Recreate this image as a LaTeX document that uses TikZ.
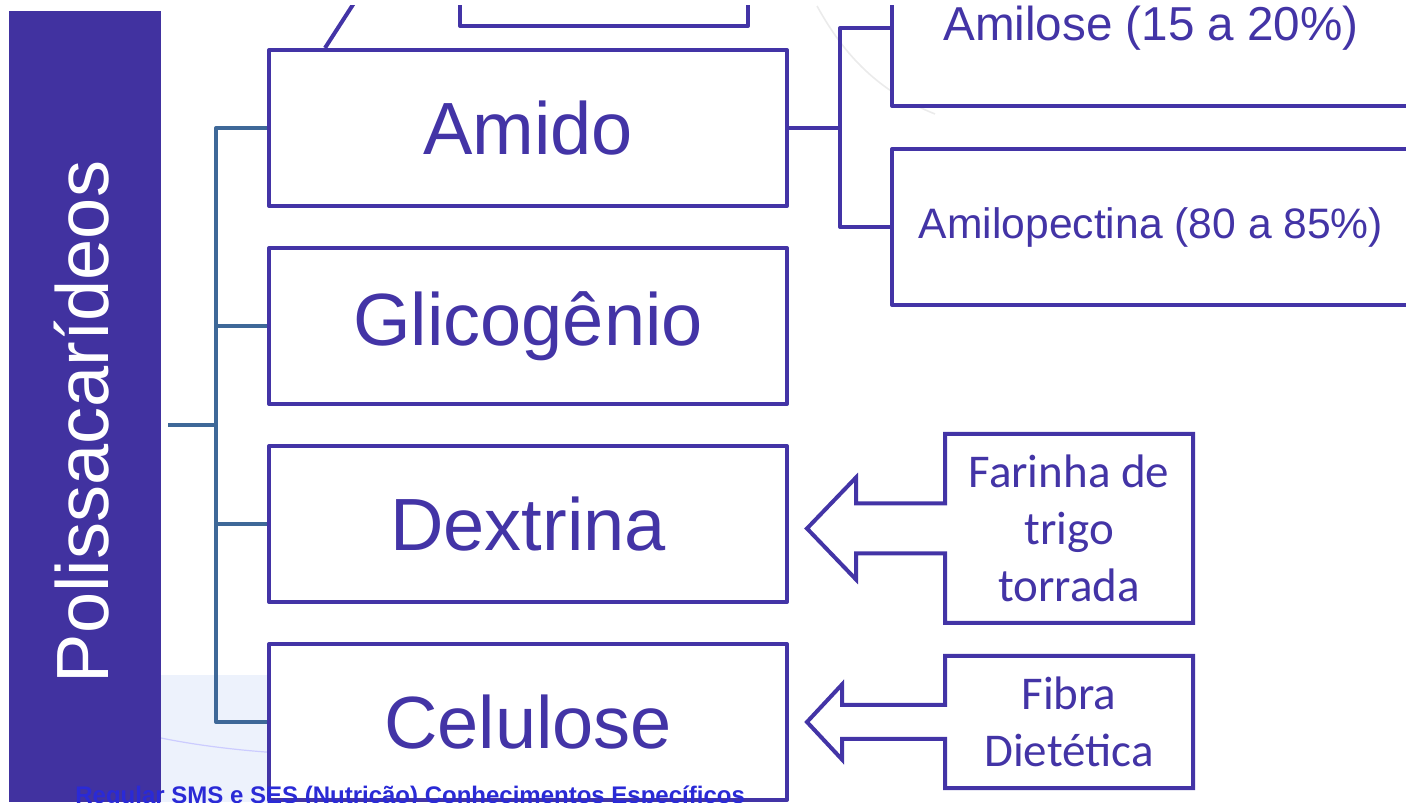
\documentclass[tikz,border=0pt]{standalone}
\usepackage{fontspec}
\setmainfont{Liberation Sans}
\newfontfamily\carlito{Carlito}
\usetikzlibrary{positioning}
\definecolor{poly}{RGB}{67,52,166}
\definecolor{bar}{RGB}{65,50,160}
\definecolor{stem}{RGB}{62,104,152}
\definecolor{footblue}{RGB}{42,42,214}
\definecolor{wave}{RGB}{237,242,252}

\begin{document}
\begin{tikzpicture}[x=0.5pt, y=0.5pt,
    box/.style={draw=poly, line width=2pt, line join=round, fill=white, text=poly, minimum width=259pt, minimum height=78pt, font=\fontsize{37}{44}\selectfont},
    tag/.style={inner sep=0pt, outer sep=0pt, text=poly, align=center, minimum width=124pt, font=\carlito\fontsize{23.5}{28.5}\selectfont},
    outline/.style={draw=poly, line width=2pt},
    link/.style={draw=stem, line width=2pt, line join=round},
    node distance=19pt and 50.5pt
  ]
  \useasboundingbox (0,0) rectangle (1406,802);
  \begin{scope}
  \clip (0,0) rectangle (1406,796);
  \fill[wave] (161,0) rectangle (300,127);
  \draw[blue!20, line width=0.6pt] (161,64) .. controls (200,56) and (250,50) .. (300,48);
  \draw[black!8, line width=0.8pt] (817,796) .. controls (845,745) and (880,710) .. (935,688);

  \node[fill=bar, inner sep=0pt, outer sep=0pt, minimum width=76pt, minimum height=395.5pt, anchor=south west] (bar) at (9,0) {};
  \node[rotate=90, anchor=base, text=white, font=\fontsize{37}{44}\selectfont] (title) at (108,380) {Polissacarídeos};

  \node[box] (amido) at (528,674) {Amido};
  \node[box, below=of amido] (glico) {Glicogênio};
  \node[box, below=of glico] (dextrina) {Dextrina};
  \node[box, below=of dextrina] (celulose) {Celulose};

  \node[box, right=of amido, yshift=50pt, font=\fontsize{23.8}{28}\selectfont] (amilose) {Amilose (15 a 20\%)};
  \node[box, right=of amido, yshift=-49.5pt, font=\fontsize{21.3}{26}\selectfont] (amilopectina) {Amilopectina (80 a 85\%)};

  \coordinate (stub) at (168,377);
  \draw[link] (stub) -- ++(24pt,0);
  \draw[link] (amido.west) -- ++(-25.5pt,0) |- (celulose.west);
  \draw[link] (glico.west) -- ++(-25.5pt,0);
  \draw[link] (dextrina.west) -- ++(-25.5pt,0);

  \draw[link, draw=poly] (amido.east) -- ++(25.5pt,0) coordinate (fork);
  \draw[link, draw=poly] (amilose.west) -| (fork) |- (amilopectina.west);

  \node[draw=poly, line width=2pt, line join=round, minimum width=144pt, minimum height=60pt, anchor=south] (upper) at (604,774) {};
  \draw[outline] ([xshift=29pt]amido.north west) -- ++(40,62);

  \node[tag, minimum height=94.5pt, right=78pt of dextrina, yshift=-2.25pt] (farinha) {Farinha de\\trigo\\torrada};
  \draw[outline] ([yshift=12.5pt]farinha.west) |- (farinha.north east) |- (farinha.south west) -- ([yshift=-12.5pt]farinha.west) -- ++(-44.5pt,0) -- ++(0,-13pt) -- ++(-24.5pt,25.5pt) -- ++(24.5pt,25.5pt) -- ++(0,-13pt) -- cycle;

  \node[tag, minimum height=66pt, right=78pt of celulose] (fibra) {Fibra\\Dietética};
  \draw[outline] ([yshift=8.5pt]fibra.west) |- (fibra.north east) |- (fibra.south west) -- ([yshift=-8.5pt]fibra.west) -- ++(-51.5pt,0) -- ++(0,-10.25pt) -- ++(-17.5pt,18.75pt) -- ++(17.5pt,18.75pt) -- ++(0,-10.25pt) -- cycle;

  \node[anchor=base west, inner sep=0pt, text=footblue, font=\bfseries\fontsize{12}{14}\selectfont] (footer) at (75,-1) {Regular SMS e SES (Nutrição) Conhecimentos Específicos};
  \end{scope}
\end{tikzpicture}
\end{document}
